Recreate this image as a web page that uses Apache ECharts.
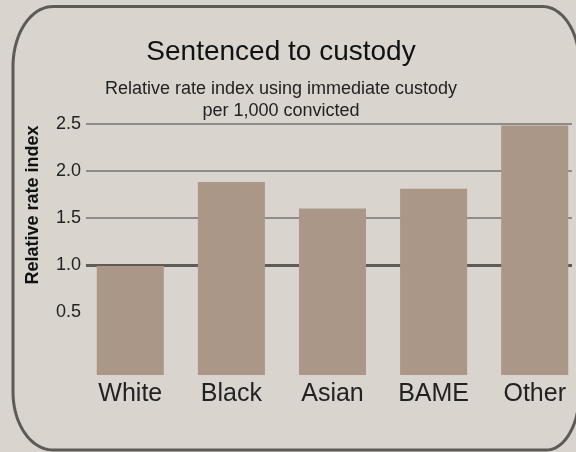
<!DOCTYPE html>
<html>
<head>
<meta charset="utf-8">
<style>
html,body{margin:0;padding:0;background:#d9d4ce;}
#chart{width:576px;height:452px;}
</style>
<script src="https://cdn.jsdelivr.net/npm/echarts@6/dist/echarts.min.js"></script>
</head>
<body>
<div id="chart"></div>
<script>
// Data
var categories = ['White', 'Black', 'Asian', 'BAME', 'Other'];
var rateValues = [0.99, 1.88, 1.6, 1.81, 2.48];
var yTicks = [0, 0.5, 1.0, 1.5, 2.0, 2.5];
var barFloor = -0.168; // bars extend slightly below zero in the reference

var FONT = '"Liberation Sans", Arial, Helvetica, sans-serif';
var chart = echarts.init(document.getElementById('chart'));

var gridTop = 123.7, gridBottom = 452 - 359.2;

// Frame outline: rounded rectangle with elliptical corners
function framePoints() {
  var L = 13, R = 579.5, T = 6.5, B = 450;
  var corners = [
    {cx: R - 37, cy: T + 58, rx: 37, ry: 58, a0: -90, a1: 0},
    {cx: R - 33, cy: B - 58, rx: 33, ry: 58, a0: 0, a1: 90},
    {cx: L + 40, cy: B - 58, rx: 40, ry: 58, a0: 90, a1: 180},
    {cx: L + 40, cy: T + 60, rx: 40, ry: 60, a0: 180, a1: 270}
  ];
  var pts = [];
  corners.forEach(function (c) {
    for (var k = 0; k <= 24; k++) {
      var a = (c.a0 + (c.a1 - c.a0) * k / 24) * Math.PI / 180;
      pts.push([c.cx + c.rx * Math.cos(a), c.cy + c.ry * Math.sin(a)]);
    }
  });
  return pts;
}

chart.setOption({
  backgroundColor: '#d9d4ce',
  animation: false,
  title: {
    text: 'Sentenced to custody',
    subtext: 'Relative rate index using immediate custody\nper 1,000 convicted',
    left: 276,
    textAlign: 'center',
    top: 33,
    itemGap: 12,
    textStyle: {fontFamily: FONT, fontSize: 28, fontWeight: 'normal', color: '#111'},
    subtextStyle: {fontFamily: FONT, fontSize: 18, color: '#222', lineHeight: 22, align: 'center'}
  },
  graphic: [{
    type: 'polygon',
    z: -1,
    shape: {points: framePoints()},
    style: {fill: 'none', stroke: '#5e5a55', lineWidth: 3}
  }, {
    type: 'text',
    x: 33,
    y: 205,
    rotation: Math.PI / 2,
    style: {
      text: 'Relative rate index',
      font: 'bold 18px ' + FONT,
      fill: '#111',
      align: 'center', verticalAlign: 'middle'
    }
  }],
  grid: [
    {left: 86, right: 4, top: gridTop, bottom: gridBottom, outerBoundsMode: 'none', containLabel: false},
    {left: 79.75, width: 505.5, top: gridTop, bottom: gridBottom, outerBoundsMode: 'none', containLabel: false}
  ],
  xAxis: [
    {gridIndex: 0, type: 'value', min: 0, max: 1, show: false},
    {
      gridIndex: 1, type: 'category', data: categories,
      axisLine: {show: false}, axisTick: {show: false}, splitLine: {show: false},
      axisLabel: {fontFamily: FONT, fontSize: 25, color: '#222', margin: 22}
    }
  ],
  yAxis: [
    {
      gridIndex: 0, type: 'value', min: yTicks[0], max: yTicks[yTicks.length - 1], interval: 0.5,
      axisLine: {show: false}, axisTick: {show: false},
      axisLabel: {
        fontFamily: FONT, fontSize: 18, color: '#222', margin: 5,
        formatter: function (v) { return v === 0 ? '' : v.toFixed(1); }
      },
      splitLine: {show: true, lineStyle: {width: 2, color: ['rgba(0,0,0,0)', 'rgba(0,0,0,0)', 'rgba(0,0,0,0)', '#8f8b86', '#8f8b86', '#8f8b86']}}
    },
    {
      gridIndex: 0, type: 'value', min: yTicks[0], max: yTicks[yTicks.length - 1], interval: 0.5,
      axisLine: {show: false}, axisTick: {show: false}, axisLabel: {show: false},
      splitLine: {show: true, lineStyle: {width: 3, color: ['rgba(0,0,0,0)', 'rgba(0,0,0,0)', '#5f5c58', 'rgba(0,0,0,0)', 'rgba(0,0,0,0)', 'rgba(0,0,0,0)']}}
    },
    {gridIndex: 1, type: 'value', min: yTicks[0], max: yTicks[yTicks.length - 1], show: false, splitLine: {show: false}}
  ],
  series: [{
    type: 'custom',
    xAxisIndex: 1,
    yAxisIndex: 2,
    clip: false,
    data: rateValues.map(function (v, i) { return [i, v]; }),
    renderItem: function (params, api) {
      var top = api.coord([api.value(0), api.value(1)]);
      var bot = api.coord([api.value(0), barFloor]);
      var w = api.size([1, 0])[0] * 0.663;
      return {
        type: 'rect',
        shape: {x: top[0] - w / 2, y: top[1], width: w, height: bot[1] - top[1]},
        style: {fill: '#aa9788'}
      };
    }
  }]
});
</script>
</body>
</html>
